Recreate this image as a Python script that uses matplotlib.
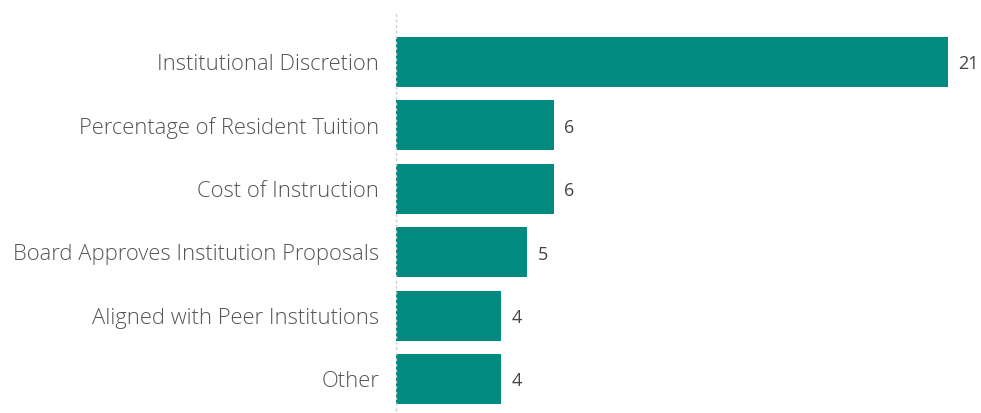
import matplotlib
matplotlib.use("Agg")
import matplotlib.pyplot as plt

categories = ["Institutional Discretion", "Percentage of Resident Tuition", "Cost of Instruction",
              "Board Approves Institution Proposals", "Aligned with Peer Institutions", "Other"]
values = [21, 6, 6, 5, 4, 4]

plt.rcParams['font.family'] = ['Open Sans', 'DejaVu Sans']

W, H = 981, 413
fig = plt.figure(figsize=(W/100, H/100), dpi=100)
left_px, right_px = 396, 981
top_px, bot_px = 10, 410
ax = fig.add_axes([left_px/W, 1 - bot_px/H, (right_px-left_px)/W, (bot_px-top_px)/H])

pos = list(range(len(categories)))
ax.barh(pos, values, height=0.79, color="#008A80")
ax.set_ylim(5.49, -0.82)
xmax = (right_px - left_px) / (552/21)
ax.set_xlim(0, xmax)

for p, v in zip(pos, values):
    ax.annotate(str(v), (v, p), xytext=(7.2, -1.8), textcoords="offset points",
                va="center", ha="left", fontsize=13, color="#444444")

ax.set_yticks(pos)
ax.set_yticklabels(categories, fontsize=15.8, color="#555555", fontweight="light")
ax.tick_params(axis="y", length=0, pad=12.2)
ax.set_xticks([])
for s in ["top", "right", "bottom"]:
    ax.spines[s].set_visible(False)
ax.spines["left"].set_linestyle((0, (1, 3)))
ax.spines["left"].set_color("#cccccc")
ax.spines["left"].set_linewidth(1)

fig.savefig("out.png", dpi=100)
